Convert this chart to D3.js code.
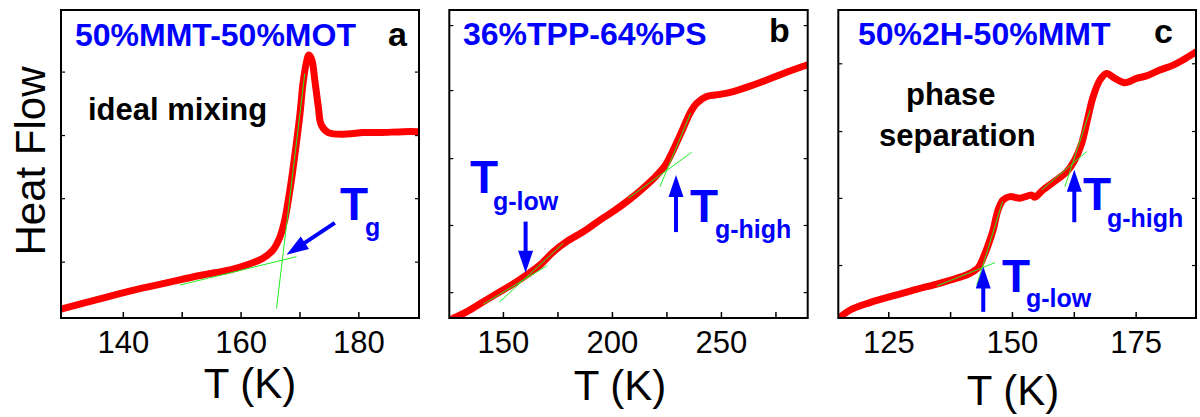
<!DOCTYPE html>
<html>
<head>
<meta charset="utf-8">
<script src="https://cdn.jsdelivr.net/npm/d3@7"></script>
<style>
  body { margin: 0; background: #fff; }
  svg { display: block; font-family: "Liberation Sans", Arial, sans-serif; }
</style>
</head>
<body>
<svg width="1200" height="417"></svg>
<script>
// panel a : 50%MMT-50%MOT
var tempA = [129.5, 136.1, 141.7, 147.4, 153.1, 158.2, 161.0, 163.8, 165.5, 166.7, 167.5, 168.2, 168.8, 169.4,
             170.1, 170.6, 171.2, 171.6, 172.1, 172.6, 173.2, 173.7, 174.9, 178.0, 180.8, 183.6, 187.6, 190.4];
var heatA = [2.9, 6.2, 9.0, 11.4, 13.8, 15.6, 17.2, 19.4, 22.1, 26.4, 31.8, 39.4, 47.0, 55.6,
             66.5, 76.2, 83.2, 85.4, 83.8, 77.3, 68.6, 62.7, 60.2, 59.7, 60.2, 60.2, 60.5, 60.5];
// panel b : 36%TPP-64%PS
var tempB = [127.2, 133.3, 141.0, 148.6, 156.3, 160.9, 167.0, 173.1, 179.2, 186.8, 194.5, 200.6, 208.3, 212.8,
             219.0, 224.3, 228.1, 232.0, 235.8, 238.9, 243.4, 249.6, 255.6, 263.3, 271.0, 278.6, 288.5, 290.5];
var heatB = [-0.1, 2.0, 5.3, 8.5, 11.8, 14.0, 17.2, 21.5, 24.8, 28.0, 31.8, 34.6, 38.6, 41.2,
             45.2, 49.4, 54.5, 60.5, 66.5, 69.7, 71.9, 72.6, 73.5, 75.3, 77.3, 79.4, 81.9, 82.3];
// panel c : 50%2H-50%MMT
var tempC = [114.9, 117.3, 121.3, 126.7, 130.7, 134.8, 138.8, 141.5, 143.2, 144.2, 145.2, 146.2, 147.2, 148.2,
             149.6, 151.6, 154.0, 154.6, 156.3, 159.0, 161.1, 162.7, 164.1, 165.4, 166.4, 167.8, 169.1, 170.8,
             172.8, 175.2, 177.2, 179.9, 182.6, 184.6, 187.2];
var heatC = [-0.2, 2.6, 5.0, 7.5, 9.3, 11.0, 12.9, 14.5, 16.4, 19.6, 23.7, 28.6, 35.1, 38.3,
             39.4, 38.9, 39.9, 39.2, 41.6, 44.8, 47.5, 51.3, 56.7, 65.4, 71.8, 77.3, 79.4, 77.8,
             76.4, 77.8, 78.6, 80.5, 82.1, 83.8, 86.4];

// tangent lines [T1, v1, T2, v2]
var tangentsA = [[149.7, 10.7, 169.5, 19.9], [166.1, 3.1, 170.9, 79.4]];
var tangentsB = [[141.0, 4.5, 170.3, 17.0], [148.3, 5.1, 177.7, 24.3],
                 [207.5, 38.9, 236.6, 53.8], [222.0, 42.6, 236.1, 66.5]];
var tangentsC = [[134.8, 10.4, 146.6, 18.0], [142.9, 10.7, 148.1, 37.8],
                 [156.0, 41.6, 165.1, 54.0], [160.7, 42.6, 165.8, 67.5]];

// arrows [T tail, v tail, T tip, v tip]
var arrowsA = [[176.0, 30.9, 167.8, 20.5]];
var arrowsB = [[160.4, 31.3, 160.4, 14.7], [229.4, 27.9, 229.4, 46.4]];
var arrowsC = [[162.6, 31.1, 162.6, 48.1], [144.2, 2.0, 144.2, 16.7]];

// axes
var domainA = [129.5, 190.3], domainB = [125.4, 289.8], domainC = [114.9, 187.2];
var majorA = [140, 160, 180], minorA = [150, 170];
var majorB = [150, 200, 250], minorB = [175, 225, 275];
var majorC = [125, 150, 175], minorC = [137.5, 162.5];
var yTicksA = [18.3, 38.9, 59.4, 80.0];
var yTicksB = [8.4, 30.2, 51.9, 74.0, 95.1];
var yTicksC = [17.2, 39.0, 60.7, 82.7];

var titles = ["50%MMT-50%MOT", "36%TPP-64%PS", "50%2H-50%MMT"];
var letters = ["a", "b", "c"];

var svg = d3.select("svg");
var plotTop = 10, plotBottom = 318;
var blue = "#0000ff";

var panels = [
  {x0: 61, x1: 419, dom: domainA, t: tempA, h: heatA, maj: majorA, min: minorA, yt: yTicksA, tan: tangentsA, arr: arrowsA,
   title: {x: 75, y: 46}, letter: {x: 388, y: 46}, axisTitle: {x: 250, y: 398}},
  {x0: 449.3, x1: 807.7, dom: domainB, t: tempB, h: heatB, maj: majorB, min: minorB, yt: yTicksB, tan: tangentsB, arr: arrowsB,
   title: {x: 463, y: 45}, letter: {x: 769, y: 42}, axisTitle: {x: 620, y: 400}},
  {x0: 838.3, x1: 1196, dom: domainC, t: tempC, h: heatC, maj: majorC, min: minorC, yt: yTicksC, tan: tangentsC, arr: arrowsC,
   title: {x: 858, y: 45}, letter: {x: 1154, y: 43}, axisTitle: {x: 1013, y: 405}}
];

var defs = svg.append("defs");

panels.forEach(function(p, i) {
  var x = d3.scaleLinear().domain(p.dom).range([p.x0, p.x1]);
  var y = d3.scaleLinear().domain([0, 100]).range([plotBottom, plotTop]);
  var g = svg.append("g");

  defs.append("clipPath").attr("id", "clip" + i)
    .append("rect").attr("x", p.x0).attr("y", plotTop).attr("width", p.x1 - p.x0).attr("height", plotBottom - plotTop);

  // ticks
  var xMaj = d3.axisBottom(x).tickValues(p.maj).tickFormat(d3.format("d")).tickSizeInner(-6).tickSizeOuter(0).tickPadding(13);
  var xMin = d3.axisBottom(x).tickValues(p.min).tickFormat("").tickSizeInner(-6).tickSizeOuter(0);
  var ax = g.append("g").attr("transform", "translate(0," + plotBottom + ")").call(xMaj);
  ax.select(".domain").remove();
  ax.selectAll("line").attr("stroke", "#000").attr("stroke-width", 1.5);
  ax.selectAll("text").attr("font-size", 31).attr("fill", "#000").attr("font-family", "Liberation Sans, Arial, sans-serif");
  var axm = g.append("g").attr("transform", "translate(0," + plotBottom + ")").call(xMin);
  axm.select(".domain").remove();
  axm.selectAll("line").attr("stroke", "#000").attr("stroke-width", 1.5);

  var yl = d3.axisLeft(y).tickValues(p.yt).tickFormat("").tickSizeInner(-4).tickSizeOuter(0);
  var yr = d3.axisRight(y).tickValues(p.yt).tickFormat("").tickSizeInner(-4).tickSizeOuter(0);
  var ayl = g.append("g").attr("transform", "translate(" + p.x0 + ",0)").call(yl);
  var ayr = g.append("g").attr("transform", "translate(" + p.x1 + ",0)").call(yr);
  [ayl, ayr].forEach(function(a) {
    a.select(".domain").remove();
    a.selectAll("line").attr("stroke", "#000").attr("stroke-width", 1.2);
  });

  // curve
  var pts = p.t.map(function(d, k) { return [d, p.h[k]]; });
  var line = d3.line().x(function(d) { return x(d[0]); }).y(function(d) { return y(d[1]); })
    .curve(d3.curveCatmullRom.alpha(0.5));
  g.append("path").datum(pts)
    .attr("clip-path", "url(#clip" + i + ")")
    .attr("d", line)
    .attr("fill", "none")
    .attr("stroke", "#ff0000")
    .attr("stroke-width", 7)
    .attr("stroke-linejoin", "round")
    .attr("stroke-linecap", "round");

  // tangents
  g.selectAll(".tan").data(p.tan).enter().append("line")
    .attr("x1", function(d) { return x(d[0]); })
    .attr("y1", function(d) { return y(d[1]); })
    .attr("x2", function(d) { return x(d[2]); })
    .attr("y2", function(d) { return y(d[3]); })
    .attr("stroke", "#22ee22")
    .attr("stroke-width", 1);

  // frame
  g.append("rect").attr("x", p.x0).attr("y", plotTop).attr("width", p.x1 - p.x0).attr("height", plotBottom - plotTop)
    .attr("fill", "none").attr("stroke", "#000").attr("stroke-width", 2);

  // arrows
  p.arr.forEach(function(a) {
    var x1 = x(a[0]), y1 = y(a[1]), x2 = x(a[2]), y2 = y(a[3]);
    var dx = x2 - x1, dy = y2 - y1, len = Math.sqrt(dx * dx + dy * dy);
    var ux = dx / len, uy = dy / len;
    var hl = 22, hw = 7.5;
    var bx = x2 - ux * hl, by = y2 - uy * hl;
    g.append("line").attr("x1", x1).attr("y1", y1).attr("x2", bx + ux * 2).attr("y2", by + uy * 2)
      .attr("stroke", blue).attr("stroke-width", 4);
    g.append("path")
      .attr("d", "M" + x2 + "," + y2 + "L" + (bx - uy * hw) + "," + (by + ux * hw) +
                 "L" + (bx + uy * hw) + "," + (by - ux * hw) + "Z")
      .attr("fill", blue);
  });

  // titles
  g.append("text").attr("x", p.title.x).attr("y", p.title.y).text(titles[i])
    .attr("font-size", 32).attr("font-weight", "bold").attr("fill", blue);
  g.append("text").attr("x", p.letter.x).attr("y", p.letter.y).text(letters[i])
    .attr("font-size", 34).attr("font-weight", "bold").attr("fill", "#000");
  g.append("text").attr("x", p.axisTitle.x).attr("y", p.axisTitle.y).text("T (K)")
    .attr("font-size", 42).attr("text-anchor", "middle").attr("fill", "#000");
});

// y title
svg.append("text").attr("transform", "translate(45,161) rotate(-90)")
  .attr("text-anchor", "middle").attr("font-size", 42).attr("fill", "#000").text("Heat Flow");

// annotations
function tg(xT, yT, sub, xs, ys) {
  var t = svg.append("text").attr("fill", blue).attr("font-weight", "bold");
  t.append("tspan").attr("x", xT).attr("y", yT).attr("font-size", 46).text("T");
  t.append("tspan").attr("x", xs).attr("y", ys).attr("font-size", 25).text(sub);
}
tg(340, 220, "g", 365, 236);
tg(470, 193, "g-low", 493, 210);
tg(690, 222, "g-high", 715, 238);
tg(1083, 210, "g-high", 1107, 227);
tg(1002, 292, "g-low", 1026, 307);

svg.append("text").attr("x", 88).attr("y", 120).attr("font-size", 31).attr("font-weight", "bold").text("ideal mixing");
svg.append("text").attr("x", 906).attr("y", 105).attr("font-size", 31).attr("font-weight", "bold").text("phase");
svg.append("text").attr("x", 879).attr("y", 146).attr("font-size", 31).attr("font-weight", "bold").text("separation");
</script>
</body>
</html>
